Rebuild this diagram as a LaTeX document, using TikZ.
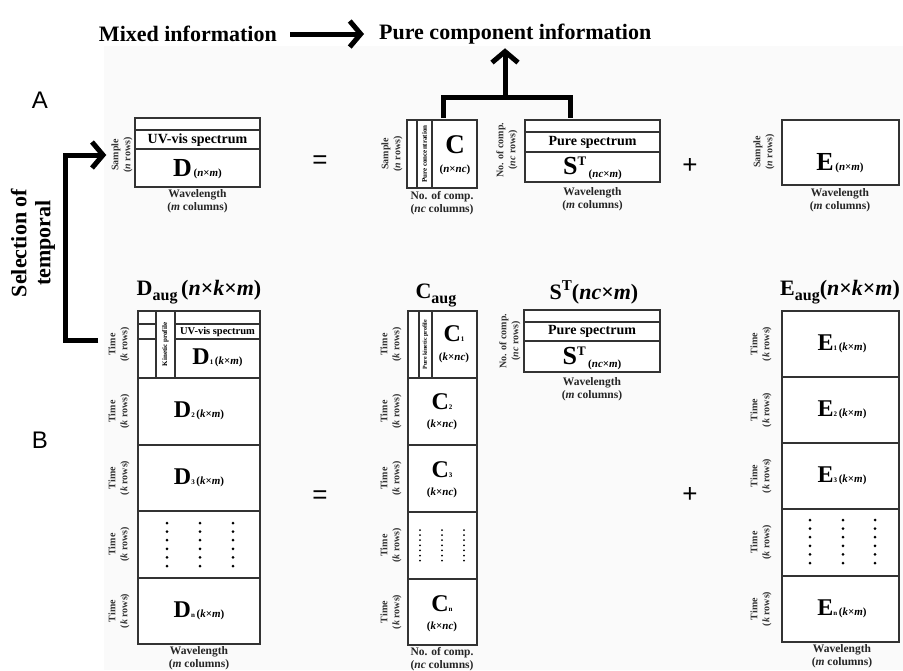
\documentclass[tikz,border=0pt]{standalone}
\usepackage{fontspec}
\setmainfont{Liberation Serif}
\newfontfamily\arialfont{Liberation Sans}
\usetikzlibrary{arrows.meta}

\newcommand{\Mbig}[1]{{\fontsize{26}{26}\selectfont #1}}
\newcommand{\Msize}[1]{{\fontsize{11}{11}\selectfont(#1)}}
\newcommand{\blk}[2]{{\fontsize{24}{24}\selectfont #1}{\fontsize{7}{7}\selectfont #2}}
\newcommand{\augsub}{\raisebox{-5pt}{\fontsize{16}{16}\selectfont aug}}

\tikzset{
  heading/.style={font=\fontsize{22}{24}\selectfont\bfseries, inner sep=1pt},
  panel/.style={font=\fontsize{24}{24}\selectfont\arialfont, inner sep=0pt},
  sym/.style={font=\fontsize{26}{26}\selectfont\arialfont, inner sep=0pt},
  mat/.style={draw=black!80, line width=1.8pt, fill=white},
  sub/.style={draw=black!80, line width=1.3pt},
  axis/.style={font=\fontsize{11.5}{13}\selectfont\bfseries, align=center, inner sep=0pt, text=black!85},
  side/.style={font=\fontsize{10}{12}\selectfont\bfseries, align=center, rotate=90, inner sep=0pt, text=black!80},
  band/.style={font=\fontsize{14}{14}\selectfont\bfseries, inner sep=0pt},
  smallband/.style={font=\fontsize{10.5}{10.5}\selectfont\bfseries, inner sep=0pt},
  strip/.style={font=\fontsize{7}{7}\selectfont\bfseries, rotate=90, inner sep=0pt},
  big/.style={font=\bfseries, inner sep=0pt},
  title/.style={font=\fontsize{22}{22}\selectfont\bfseries, inner sep=0pt},
  bigarrow/.style={line width=5pt, line join=miter, -{Straight Barb[length=11pt,width=26pt]}},
  dotcol/.style={line width=3pt, line cap=round, dash pattern=on 0pt off 8.6pt},
  cdotcol/.style={line width=2pt, line cap=round, dash pattern=on 0pt off 5.1pt},
}

\begin{document}
\begin{tikzpicture}[x=1pt,y=-1pt]
\useasboundingbox (0,0) rectangle (903,670);
\fill[black!2] (104,46) rectangle (903,670);

\node[heading, anchor=east] (mixed) at (278,34) {Mixed information};
\node[heading, anchor=west] (pure) at (378,34) {Pure component information};
\draw[bigarrow, shorten <=12pt, shorten >=14pt] (mixed) -- (pure);

\node[panel] (labA) at (40,100) {A};
\node[panel] (labB) at (40,440) {B};

\node[heading, rotate=90, align=center] (sel) at (33,243) {Selection of\\temporal};

% A: D = C S^T + E
\draw[mat] (135,118) rectangle (260,187);
\draw[sub] (135,130) -- (260,130) (135,149) -- (260,149);
\node[band] (Dband) at (197.5,140) {UV-vis spectrum};
\node[big] (Dname) at (197.5,169) {\Mbig{D}\,\Msize{\textit{n}×\textit{m}}};
\node[axis] (Dwave) at (197.5,201) {Wavelength\\(\textit{m} columns)};
\node[side] (Dsample) at (122,155) {Sample\\(\textit{n} rows)};

\node[sym] (eqA) at (320,162) {=};

\draw[mat] (407,120) rectangle (477,188);
\draw[sub] (417,120) -- (417,188) (432,120) -- (432,188);
\node[strip] (Cstrip) at (424.5,154) {Pure concentration};
\node[big] (Cname) at (455,145) {\fontsize{27}{27}\selectfont C};
\node[big] (Csize) at (455,170) {\Msize{\textit{n}×\textit{nc}}};
\node[axis] (Cwave) at (442,203) {No. of comp.\\(\textit{nc} columns)};
\node[side] (Csample) at (392,154) {Sample\\(\textit{n} rows)};

\draw[mat] (525,120) rectangle (660,182);
\draw[sub] (525,132) -- (660,132) (525,152) -- (660,152);
\node[band] (Sband) at (592.5,142) {Pure spectrum};
\node[big] (Sname) at (592.5,168) {\Mbig{S}\raisebox{9pt}{\fontsize{13}{13}\selectfont T}\ \raisebox{-3pt}{\Msize{\textit{nc}×\textit{m}}}};
\node[axis] (Swave) at (592.5,199) {Wavelength\\(\textit{m} columns)};
\node[side] (Scomp) at (507,150) {No. of comp.\\(\textit{nc} rows)};

\draw[line width=5pt, line join=miter] (443,118) -- (443,97) -- (570,97) -- (570,118);
\coordinate (brk) at (505,97);
\draw[bigarrow, shorten >=3pt] (brk) -- (brk |- pure.south);

\node[sym] (plusA) at (690,166) {+};

\draw[mat] (782,120) rectangle (899,185);
\node[big] (Ename) at (840,163) {\Mbig{E}\,\Msize{\textit{n}×\textit{m}}};
\node[axis] (Ewave) at (840,200) {Wavelength\\(\textit{m} columns)};
\node[side] (Esample) at (764,152) {Sample\\(\textit{n} rows)};

% B: Daug = Caug S^T + Eaug
\node[title] (Dtitle) at (199,292) {D\augsub\,(\textit{n}×\textit{k}×\textit{m})};
\draw[mat] (138,311) rectangle (260,644);
\draw[sub] (138,378) -- (260,378) (138,445) -- (260,445) (138,511) -- (260,511) (138,578) -- (260,578);
\draw[sub] (156,311) -- (156,378) (175,311) -- (175,378);
\draw[sub] (138,324) -- (156,324) (175,324) -- (260,324) (138,339) -- (156,339) (175,339) -- (260,339);
\node[strip] (Dkin) at (165.5,344.5) {Kinetic profile};
\node[smallband] (D1band) at (217.5,331.5) {UV-vis spectrum};
\node[big] (D1) at (217.5,358) {\blk{D}{1}\,\Msize{\textit{k}×\textit{m}}};
\node[big] (D2) at (199,411) {\blk{D}{2}\,\Msize{\textit{k}×\textit{m}}};
\node[big] (D3) at (199,478) {\blk{D}{3}\,\Msize{\textit{k}×\textit{m}}};
\node[big] (Dn) at (199,611) {\blk{D}{n}\,\Msize{\textit{k}×\textit{m}}};
\draw[dotcol] (167,523) -- (167,567) (200,523) -- (200,567) (233,523) -- (233,567);
\node[side] (Dt1) at (119,344.5) {Time\\(\textit{k} rows)};
\node[side] (Dt2) at (119,411.5) {Time\\(\textit{k} rows)};
\node[side] (Dt3) at (119,478) {Time\\(\textit{k} rows)};
\node[side] (Dt4) at (119,544.5) {Time\\(\textit{k} rows)};
\node[side] (Dt5) at (119,611) {Time\\(\textit{k} rows)};
\node[axis] (Dwaveb) at (199,658) {Wavelength\\(\textit{m} columns)};

\coordinate (selC) at (65,250);
\draw[bigarrow] ([xshift=-10pt,yshift=4pt]Dt1.north) -| (selC) |- ([xshift=-5pt]Dsample.north);

\node[sym] (eqB) at (320,497) {=};

\node[title] (Ctitle) at (436,295) {C\augsub};
\draw[mat] (408,311) rectangle (477,645);
\draw[sub] (408,378) -- (477,378) (408,445) -- (477,445) (408,512) -- (477,512) (408,579) -- (477,579);
\draw[sub] (419,311) -- (419,378) (432,311) -- (432,378);
\node[strip, font=\fontsize{6}{6}\selectfont\bfseries] (Ckin) at (425.5,344.5) {Pure kinetic profile};
\node[big] (C1) at (454,334) {\blk{C}{1}};
\node[big] (C1s) at (454,358) {\Msize{\textit{k}×\textit{nc}}};
\node[big] (C2) at (442,402) {\blk{C}{2}};
\node[big] (C2s) at (442,425) {\Msize{\textit{k}×\textit{nc}}};
\node[big] (C3) at (442,470) {\blk{C}{3}};
\node[big] (C3s) at (442,493) {\Msize{\textit{k}×\textit{nc}}};
\node[big] (Cn) at (442,604) {\blk{C}{n}};
\node[big] (Cns) at (442,627) {\Msize{\textit{k}×\textit{nc}}};
\draw[cdotcol] (420,530) -- (420,561) (442,530) -- (442,561) (464,530) -- (464,561);
\node[side] (Ct1) at (391,344.5) {Time\\(\textit{k} rows)};
\node[side] (Ct2) at (391,411.5) {Time\\(\textit{k} rows)};
\node[side] (Ct3) at (391,478.5) {Time\\(\textit{k} rows)};
\node[side] (Ct4) at (391,545.5) {Time\\(\textit{k} rows)};
\node[side] (Ct5) at (391,612) {Time\\(\textit{k} rows)};
\node[axis] (Cwaveb) at (442,659) {No. of comp.\\(\textit{nc} columns)};

\node[title] (Stitle) at (594,292) {S\raisebox{9pt}{\fontsize{15}{15}\selectfont T}(\textit{nc}×\textit{m})};
\draw[mat] (524,310) rectangle (660,372);
\draw[sub] (524,322) -- (660,322) (524,341) -- (660,341);
\node[band] (Sbandb) at (592,331.5) {Pure spectrum};
\node[big] (Snameb) at (592,358) {\Mbig{S}\raisebox{9pt}{\fontsize{13}{13}\selectfont T}\ \raisebox{-3pt}{\Msize{\textit{nc}×\textit{m}}}};
\node[axis] (Swaveb) at (592,389) {Wavelength\\(\textit{m} columns)};
\node[side] (Scompb) at (510,341) {No. of comp.\\(\textit{nc} rows)};

\node[sym] (plusB) at (690,495) {+};

\node[title] (Etitle) at (840,292) {E\augsub(\textit{n}×\textit{k}×\textit{m})};
\draw[mat] (782,311) rectangle (899,642);
\draw[sub] (782,377) -- (899,377) (782,443) -- (899,443) (782,509) -- (899,509) (782,576) -- (899,576);
\node[big] (E1) at (842,344) {\blk{E}{1}\,\Msize{\textit{k}×\textit{m}}};
\node[big] (E2) at (842,410) {\blk{E}{2}\,\Msize{\textit{k}×\textit{m}}};
\node[big] (E3) at (842,476) {\blk{E}{3}\,\Msize{\textit{k}×\textit{m}}};
\node[big] (En) at (842,609) {\blk{E}{n}\,\Msize{\textit{k}×\textit{m}}};
\draw[dotcol] (810,520) -- (810,564) (843,520) -- (843,564) (875,520) -- (875,564);
\node[side] (Et1) at (761,344) {Time\\(\textit{k} rows)};
\node[side] (Et2) at (761,410) {Time\\(\textit{k} rows)};
\node[side] (Et3) at (761,476) {Time\\(\textit{k} rows)};
\node[side] (Et4) at (761,542.5) {Time\\(\textit{k} rows)};
\node[side] (Et5) at (761,609) {Time\\(\textit{k} rows)};
\node[axis] (Ewaveb) at (842,656) {Wavelength\\(\textit{m} columns)};
\end{tikzpicture}
\end{document}
